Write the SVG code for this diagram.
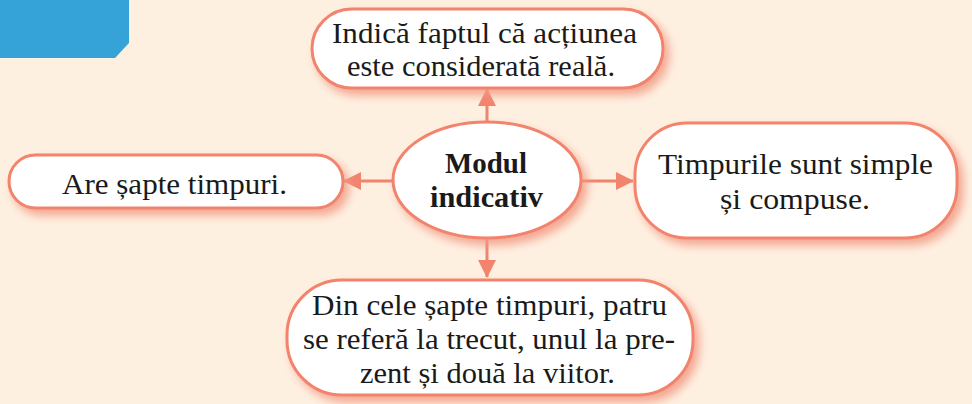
<svg xmlns="http://www.w3.org/2000/svg" width="972" height="404" viewBox="0 0 972 404">
<defs>
<style>
.box{fill:#ffffff;stroke:#F2836D;stroke-width:3;filter:url(#sh)}
.t{font-family:"Liberation Serif","Times New Roman",serif;font-size:29px;fill:#1a1a1a}
.b{font-weight:bold}
.con{stroke:#F2836D;stroke-width:3;fill:none}
</style>
<filter id="sh" x="-20%" y="-30%" width="140%" height="170%">
<feDropShadow dx="5" dy="6" stdDeviation="5" flood-color="#F29A84" flood-opacity="0.85"/>
</filter>
<marker id="ah" viewBox="0 0 18 18" refX="17" refY="9" markerWidth="18" markerHeight="18" markerUnits="userSpaceOnUse" orient="auto">
<path d="M0,0 L18,9 L0,18 Z" fill="#F2836D"/>
</marker>
</defs>
<rect width="972" height="404" fill="#FEF0E1"/>
<path d="M0,0 H129 V43 L115,58 H0 Z" fill="#35A2D8"/>
<g id="connectors">
<line class="con" x1="487" y1="122" x2="487" y2="89" marker-end="url(#ah)"/>
<line class="con" x1="580" y1="181" x2="633" y2="181" marker-end="url(#ah)"/>
<line class="con" x1="393" y1="181" x2="344" y2="181" marker-end="url(#ah)"/>
<line class="con" x1="487" y1="238" x2="487" y2="277" marker-end="url(#ah)"/>
</g>
<g id="node-top">
<rect class="box" x="312" y="9" width="351" height="79" rx="39.5"/>
<text class="t" x="332" y="43" textLength="305" lengthAdjust="spacingAndGlyphs">Indică faptul că acțiunea</text>
<text class="t" x="347" y="76" textLength="268" lengthAdjust="spacingAndGlyphs">este considerată reală.</text>
</g>
<g id="node-center">
<ellipse class="box" cx="487" cy="180" rx="94" ry="58"/>
<text class="t b" x="445" y="173" textLength="82" lengthAdjust="spacingAndGlyphs">Modul</text>
<text class="t b" x="430" y="207" textLength="113" lengthAdjust="spacingAndGlyphs">indicativ</text>
</g>
<g id="node-left">
<rect class="box" x="9" y="155" width="334" height="53" rx="26.5"/>
<text class="t" x="62" y="194" textLength="225" lengthAdjust="spacingAndGlyphs">Are șapte timpuri.</text>
</g>
<g id="node-right">
<rect class="box" x="635" y="123" width="322" height="115" rx="52"/>
<text class="t" x="658" y="174" textLength="275" lengthAdjust="spacingAndGlyphs">Timpurile sunt simple</text>
<text class="t" x="720" y="209" textLength="150" lengthAdjust="spacingAndGlyphs">și compuse.</text>
</g>
<g id="node-bottom">
<rect class="box" x="287" y="280" width="406" height="115" rx="55"/>
<text class="t" x="312" y="315" textLength="355" lengthAdjust="spacingAndGlyphs">Din cele șapte timpuri, patru</text>
<text class="t" x="303" y="349" textLength="372" lengthAdjust="spacingAndGlyphs">se referă la trecut, unul la pre-</text>
<text class="t" x="360" y="383" textLength="255" lengthAdjust="spacingAndGlyphs">zent și două la viitor.</text>
</g>
</svg>
